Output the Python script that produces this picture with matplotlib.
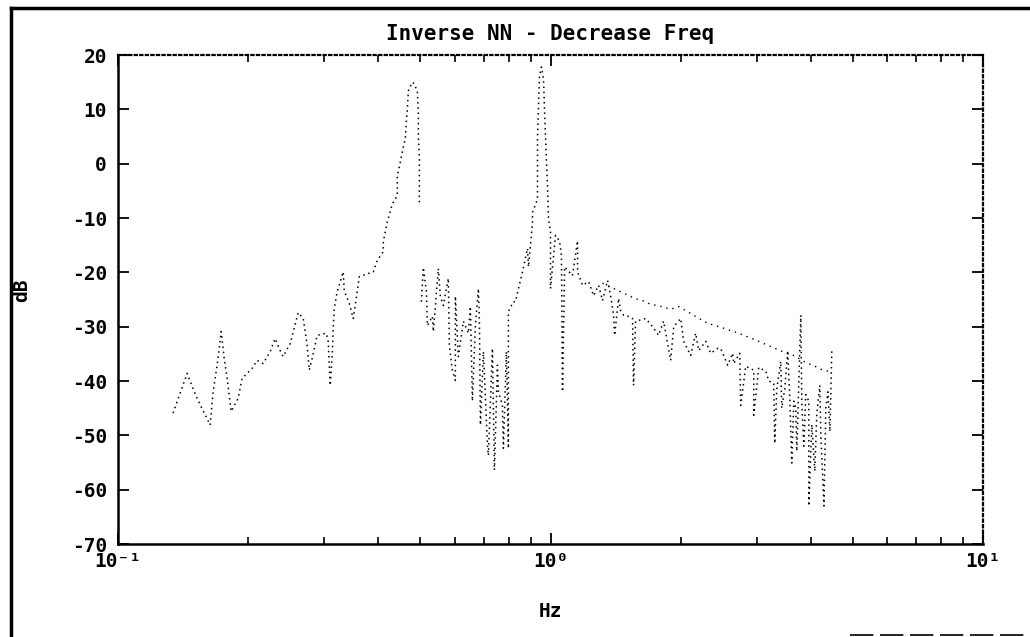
import matplotlib
matplotlib.use("Agg")
import matplotlib.pyplot as plt
import matplotlib.transforms as mtransforms
from matplotlib.lines import Line2D

plt.rcParams['font.family'] = ['DejaVu Sans Mono', 'DejaVu Sans']
plt.rcParams['font.weight'] = 'bold'
plt.rcParams['axes.unicode_minus'] = False

# spectrum below the first resonance (Hz, dB)
low_f = [0.1341, 0.1445, 0.1484, 0.1516, 0.1556, 0.1633, 0.1660, 0.1695, 0.1732, 0.1760,
         0.1788, 0.1827, 0.1896, 0.1936, 0.2042, 0.2097, 0.2165, 0.2248, 0.2308, 0.2371,
         0.2409, 0.2501, 0.2610, 0.2681, 0.2738, 0.2768, 0.2812, 0.2888, 0.3030, 0.3062,
         0.3095, 0.3128, 0.3145, 0.3162, 0.3213, 0.3317, 0.3335, 0.3425, 0.3499, 0.3555,
         0.3613, 0.3730, 0.3893, 0.3977, 0.4106, 0.4106, 0.4195, 0.4308, 0.4424, 0.4424,
         0.4496, 0.4568, 0.4617, 0.4642, 0.4667, 0.4692, 0.4793, 0.4845, 0.4922, 0.4948,
         0.4948, 0.4975, 0.4975, 0.5028]
low_db = [-45.9, -38.6, -41.0, -42.8, -44.7, -48.1, -41.9, -37.1, -30.9, -35.8,
          -39.5, -45.6, -43.2, -39.5, -37.7, -36.2, -36.8, -34.6, -32.2, -34.4,
          -35.5, -33.1, -27.4, -28.5, -33.5, -38.0, -35.8, -31.6, -31.2, -32.7,
          -40.8, -35.3, -30.3, -26.7, -23.5, -19.9, -23.4, -25.7, -28.5, -24.8,
          -20.8, -20.4, -19.9, -17.8, -16.2, -14.3, -10.7, -7.4, -5.9, -2.2,
          0.3, 3.1, 4.6, 7.7, 10.1, 13.4, 15.0, 14.7, 13.2, 9.5,
          5.1, 0.9, -7.0, -7.2]

# spectrum above the first resonance
high_f = [0.5028, 0.5082, 0.5164, 0.5192, 0.5331, 0.5360, 0.5504, 0.5563, 0.5653, 0.5805,
          0.5836, 0.5930, 0.6026, 0.6026, 0.6123, 0.6289, 0.6459, 0.6528, 0.6598, 0.6704,
          0.6813, 0.6849, 0.6886, 0.6997, 0.7148, 0.7186, 0.7340, 0.7419, 0.7538, 0.7578,
          0.7740, 0.7782, 0.7907, 0.7992, 0.7992, 0.8208, 0.8299, 0.8432, 0.8614, 0.8847,
          0.8894, 0.9085, 0.9085, 0.9331, 0.9331, 0.9431, 0.9532, 0.9634, 0.9685, 0.9788,
          0.9842, 0.9895, 1.000, 1.000, 1.027, 1.049, 1.060, 1.066, 1.078, 1.124,
          1.155, 1.155, 1.186, 1.225, 1.258, 1.292, 1.319, 1.355, 1.377, 1.399,
          1.407, 1.437, 1.452, 1.476, 1.492, 1.516, 1.548, 1.556, 1.573, 1.660,
          1.722, 1.778, 1.826, 1.896, 1.927, 2.000, 2.032, 2.109, 2.166, 2.201,
          2.285, 2.346, 2.435, 2.474, 2.568, 2.638, 2.652, 2.738, 2.753, 2.827,
          2.951, 2.951, 3.030, 3.146, 3.196, 3.282, 3.300, 3.335, 3.407, 3.425,
          3.481, 3.536, 3.574, 3.613, 3.652, 3.690, 3.711, 3.791, 3.811, 3.852,
          3.893, 3.956, 3.956, 4.020, 4.084, 4.128, 4.195, 4.217, 4.288, 4.331,
          4.380, 4.427, 4.472]
high_db = [-25.4, -19.1, -23.5, -29.8, -28.1, -30.9, -19.3, -24.4, -26.1, -21.1,
           -33.5, -38.0, -39.9, -24.4, -35.5, -29.0, -31.2, -26.3, -43.7, -29.8,
           -23.0, -29.0, -48.1, -34.6, -51.8, -53.7, -34.0, -56.4, -37.1, -41.9,
           -44.5, -52.4, -34.6, -52.4, -27.2, -25.4, -25.4, -23.0, -19.9, -15.6,
           -19.0, -11.0, -9.0, -6.5, 5.1, 16.1, 17.8, 15.6, 10.1, 0.3,
           -4.1, -10.1, -12.5, -23.0, -13.2, -14.2, -16.9, -42.0, -19.0, -20.6,
           -14.2, -19.9, -22.4, -21.7, -24.3, -22.4, -25.2, -21.5, -24.3, -27.9,
           -31.6, -24.8, -27.0, -27.9, -28.1, -28.1, -28.5, -40.8, -29.0, -28.5,
           -30.0, -31.6, -29.0, -36.2, -30.0, -28.5, -32.7, -35.3, -31.2, -34.4,
           -32.7, -34.9, -34.0, -34.0, -37.1, -34.9, -36.8, -34.9, -44.5, -37.3,
           -38.0, -46.3, -37.5, -38.2, -40.0, -40.4, -51.5, -41.5, -36.4, -45.0,
           -41.4, -34.4, -43.0, -55.1, -43.7, -45.0, -52.9, -27.9, -44.1, -52.0,
           -42.5, -43.7, -63.0, -48.0, -56.6, -46.0, -40.8, -50.0, -63.0, -45.0,
           -42.0, -49.3, -34.0]

# sparse upper trace
upper_f = [1.319, 1.565, 1.633, 1.704, 1.769, 1.896, 1.979, 2.309, 2.409, 2.724,
           3.030, 3.112, 3.443, 3.652, 3.893, 4.041, 4.240, 4.380]
upper_db = [-22.0, -24.8, -25.2, -25.9, -26.1, -26.8, -26.3, -29.4, -29.8, -31.2,
            -32.7, -33.1, -34.6, -35.3, -36.6, -37.1, -37.9, -38.2]

y_ticks = [20, 10, 0, -10, -20, -30, -40, -50, -60, -70]
x_ticks = [0.1, 1, 10]
x_labels = ['10\u207b\u00b9', '10\u2070', '10\u00b9']

fig = plt.figure(figsize=(10.30, 6.37), dpi=100)
ax = fig.add_axes([118 / 1030, 1 - 544 / 637, (983 - 118) / 1030, (544 - 55) / 637])

dots = dict(color='black', lw=1.1, linestyle=(0, (1, 2.4)))
ax.plot(low_f, low_db, **dots)
ax.plot(high_f, high_db, **dots)
ax.plot(upper_f, upper_db, color='black', lw=1.0, linestyle=(0, (1, 3.5)))

ax.set_xscale('log')
ax.set_xlim(0.1, 10)
ax.set_ylim(-70, 20)
ax.set_yticks(y_ticks)
ax.set_yticklabels([str(v) for v in y_ticks], fontsize=14, fontweight='bold')
ax.set_xticks(x_ticks)
ax.set_xticklabels(x_labels, fontsize=14, fontweight='bold')
shift = mtransforms.ScaledTranslation(-10 / 100, 0, fig.dpi_scale_trans)
for lab in ax.get_xticklabels():
    lab.set_transform(lab.get_transform() + shift)

ax.tick_params(axis='both', which='major', direction='in', length=8, width=1.3,
               top=True, right=True, pad=8)
ax.tick_params(axis='x', which='minor', direction='in', length=5, width=1.2, top=True)
ax.tick_params(axis='x', which='major', pad=6)

for side in ['left', 'bottom']:
    ax.spines[side].set_linewidth(1.8)
for side in ['top', 'right']:
    ax.spines[side].set_linewidth(1.6)
    ax.spines[side].set_linestyle((0, (1, 1.5)))

ax.set_title('Inverse NN - Decrease Freq', fontsize=15, fontweight='bold', pad=11)
ax.set_xlabel('Hz', fontsize=14, fontweight='bold', labelpad=22)
fig.text(22 / 1030, 1 - 290 / 637, 'dB', rotation=90, fontsize=14, fontweight='bold',
         ha='center', va='center')

# outer frame of the scanned page
fig.add_artist(Line2D([11 / 1030, 11 / 1030], [0, 1 - 8 / 637], transform=fig.transFigure,
                      color='black', lw=2.5))
fig.add_artist(Line2D([11 / 1030, 1], [1 - 8 / 637, 1 - 8 / 637], transform=fig.transFigure,
                      color='black', lw=2.5))
fig.add_artist(Line2D([850 / 1030, 1], [2 / 637, 2 / 637], transform=fig.transFigure,
                      color='black', lw=1.2, linestyle=(0, (14, 4))))

fig.savefig('out.png', dpi=100)
